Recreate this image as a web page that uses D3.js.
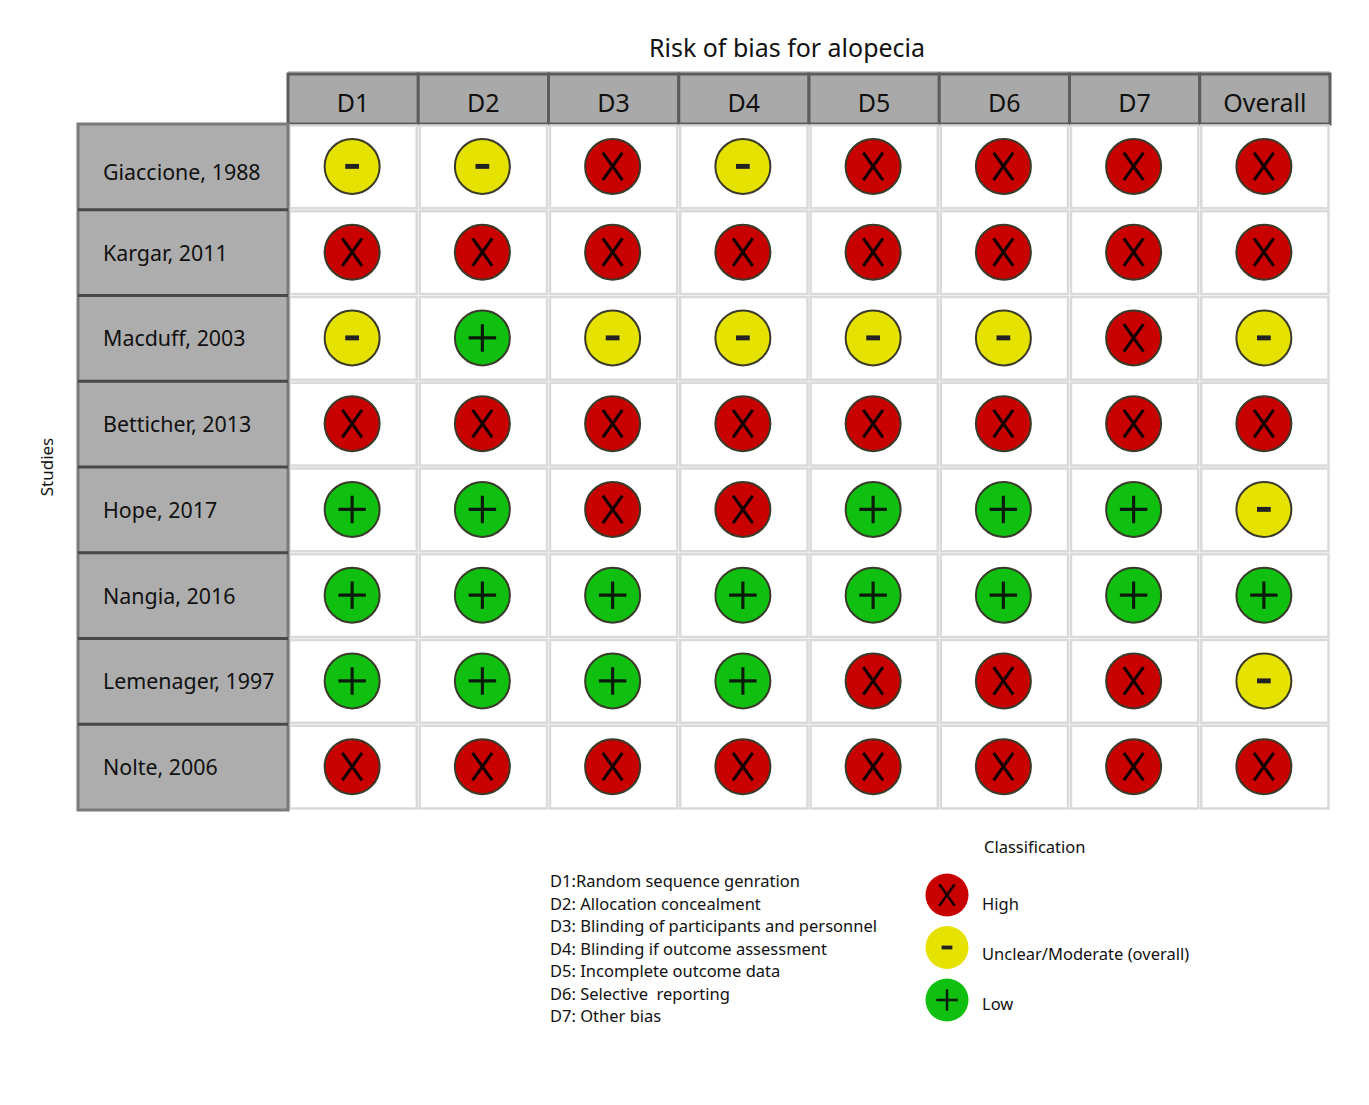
<!DOCTYPE html>
<html>
<head>
<meta charset="utf-8">
<script src="https://cdn.jsdelivr.net/npm/d3@7"></script>
<style>
  body { margin: 0; background: #fff; }
  text { font-family: "Noto Sans", "Open Sans", sans-serif; fill: #111; white-space: pre; }
</style>
</head>
<body>
<svg id="chart" width="1369" height="1105"></svg>
<script>
const title = 'Risk of bias for alopecia';
const domains = ['D1', 'D2', 'D3', 'D4', 'D5', 'D6', 'D7', 'Overall'];
const studies = [
  'Giaccione, 1988', 'Kargar, 2011', 'Macduff, 2003', 'Betticher, 2013',
  'Hope, 2017', 'Nangia, 2016', 'Lemenager, 1997', 'Nolte, 2006'
];
// H = high, U = unclear/moderate, L = low
const judgements = [
  ['U', 'U', 'H', 'U', 'H', 'H', 'H', 'H'],
  ['H', 'H', 'H', 'H', 'H', 'H', 'H', 'H'],
  ['U', 'L', 'U', 'U', 'U', 'U', 'H', 'U'],
  ['H', 'H', 'H', 'H', 'H', 'H', 'H', 'H'],
  ['L', 'L', 'H', 'H', 'L', 'L', 'L', 'U'],
  ['L', 'L', 'L', 'L', 'L', 'L', 'L', 'L'],
  ['L', 'L', 'L', 'L', 'H', 'H', 'H', 'U'],
  ['H', 'H', 'H', 'H', 'H', 'H', 'H', 'H']
];
const domainNotes = [
  'D1:Random sequence genration',
  'D2: Allocation concealment',
  'D3: Blinding of participants and personnel',
  'D4: Blinding if outcome assessment',
  'D5: Incomplete outcome data',
  'D6: Selective  reporting',
  'D7: Other bias'
];
const levels = ['H', 'U', 'L'];
const levelLabels = ['High', 'Unclear/Moderate (overall)', 'Low'];
const levelColors = { H: '#c80000', U: '#e6e200', L: '#10c010' };

const svg = d3.select('#chart');

const grid = { left: 288, right: 1330, top: 124, bottom: 810, headerTop: 73, labelLeft: 78 };

const x = d3.scaleBand().domain(domains).range([grid.left, grid.right]);
const y = d3.scaleBand().domain(studies).range([grid.top, grid.bottom]);

// title
svg.append('text')
  .attr('x', 787).attr('y', 57)
  .attr('text-anchor', 'middle')
  .style('font-size', '25px')
  .attr('textLength', 276).attr('lengthAdjust', 'spacingAndGlyphs')
  .text(title);

// header cells
const header = svg.append('g').attr('class', 'header');
header.append('rect')
  .attr('x', grid.left).attr('y', grid.headerTop - 2)
  .attr('width', grid.right - grid.left).attr('height', 3)
  .style('fill', '#c8c8c8');
header.selectAll('rect.cell').data(domains).enter().append('rect')
  .attr('class', 'cell')
  .attr('x', d => x(d)).attr('y', grid.headerTop + 1)
  .attr('width', x.bandwidth()).attr('height', grid.top - grid.headerTop - 1)
  .style('fill', '#a9a9a9')
  .style('stroke', '#5c5c5c').style('stroke-width', 3);
header.selectAll('text').data(domains).enter().append('text')
  .attr('x', d => x(d) + x.bandwidth() / 2).attr('y', 112)
  .attr('text-anchor', 'middle')
  .style('font-size', '25px')
  .text(d => d);

// body grid
const body = svg.append('g').attr('class', 'body');
body.selectAll('rect').data(d3.cross(studies, domains)).enter().append('rect')
  .attr('x', d => x(d[1]) + 1.5).attr('y', d => y(d[0]) + 1.5)
  .attr('width', x.bandwidth() - 3).attr('height', y.bandwidth() - 3)
  .style('fill', '#fff')
  .style('stroke', '#dadada').style('stroke-width', 2.5);

// row labels
const rows = svg.append('g').attr('class', 'rows');
rows.append('rect')
  .attr('x', grid.labelLeft).attr('y', grid.top)
  .attr('width', grid.left - grid.labelLeft).attr('height', grid.bottom - grid.top)
  .style('fill', '#adadad')
  .style('stroke', '#7a7a7a').style('stroke-width', 3);
rows.selectAll('line').data(studies.slice(1)).enter().append('line')
  .attr('x1', grid.labelLeft).attr('x2', grid.left)
  .attr('y1', d => y(d)).attr('y2', d => y(d))
  .style('stroke', '#484848').style('stroke-width', 3);
rows.selectAll('text').data(studies).enter().append('text')
  .attr('x', 103).attr('y', (d, i) => y(d) + y.bandwidth() / 2 + 8 + (i === 0 ? 5 : 0))
  .style('font-size', '21.4px')
  .text(d => d);

svg.append('text')
  .attr('transform', `translate(53, ${(grid.top + grid.bottom) / 2}) rotate(-90)`)
  .attr('text-anchor', 'middle')
  .style('font-size', '17px')
  .text('Studies');

// symbol drawing
function drawSymbol(g, level, r, withBorder) {
  g.append('circle')
    .attr('r', r)
    .style('fill', levelColors[level])
    .style('stroke', withBorder ? '#3a3a2a' : 'none')
    .style('stroke-width', 2);
  const k = r / 28;
  if (level === 'H') {
    g.append('path')
      .attr('d', `M${-10 * k},${-14 * k}L${10 * k},${14 * k}M${10 * k},${-14 * k}L${-10 * k},${14 * k}`)
      .style('stroke', '#140000').style('stroke-width', 3.2 * k);
  } else if (level === 'U') {
    g.append('rect')
      .attr('x', -7 * k).attr('y', -2.5 * k)
      .attr('width', 14 * k).attr('height', 5 * k)
      .style('fill', '#222');
  } else {
    g.append('path')
      .attr('d', `M${-14 * k},0H${14 * k}M0,${-14 * k}V${14 * k}`)
      .style('stroke', '#0a1a0a').style('stroke-width', 3.2 * k);
  }
}

const cells = [];
judgements.forEach((row, i) => row.forEach((v, j) => cells.push({ study: studies[i], domain: domains[j], v })));

svg.append('g').attr('class', 'marks')
  .selectAll('g').data(cells).enter().append('g')
  .attr('transform', d => `translate(${x(d.domain) + x.bandwidth() / 2 - 1}, ${y(d.study) + y.bandwidth() / 2 - 0.5})`)
  .each(function (d) { drawSymbol(d3.select(this), d.v, 27.5, true); });

// domain notes
svg.append('g').selectAll('text').data(domainNotes).enter().append('text')
  .attr('x', 550).attr('y', (d, i) => 887 + i * 22.5)
  .style('font-size', '16.5px')
  .text(d => d);

// legend
const legend = svg.append('g').attr('class', 'legend');
legend.append('text')
  .attr('x', 984).attr('y', 853)
  .style('font-size', '16.5px')
  .text('Classification');
const legendY = d3.scalePoint().domain(levels).range([895, 1000]);
const labelY = d3.scalePoint().domain(levels).range([910, 1010]);
const entry = legend.selectAll('g').data(levels).enter().append('g');
entry.append('g')
  .attr('transform', d => `translate(947, ${legendY(d)})`)
  .each(function (d) { drawSymbol(d3.select(this), d, 21.5, false); });
entry.append('text')
  .attr('x', 982).attr('y', d => labelY(d))
  .style('font-size', '16.5px')
  .text((d, i) => levelLabels[i]);
</script>
</body>
</html>
